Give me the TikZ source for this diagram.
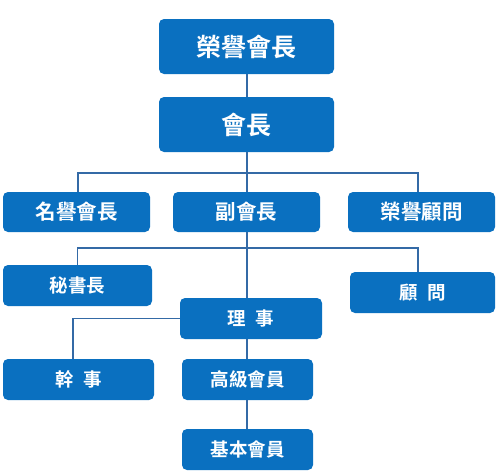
\documentclass[tikz,border=0pt]{standalone}
\usepackage{fontspec}
\newfontfamily\cjk{Noto Sans CJK TC Bold}
\definecolor{boxblue}{RGB}{10,112,192}
\definecolor{lineblue}{RGB}{52,106,166}
\begin{document}
\begin{tikzpicture}[x=1pt,y=-1pt,
  box/.style={fill=boxblue, rounded corners=5pt, text=white, inner sep=0pt, rectangle},
  big/.style={box, minimum width=175pt, minimum height=55pt, font=\cjk\fontsize{25}{25}\selectfont},
  mid/.style={box, minimum width=147pt, minimum height=40pt, font=\cjk\fontsize{20.5}{20.5}\selectfont},
  sml/.style={box, minimum height=41pt, font=\cjk\fontsize{18.5}{18.5}\selectfont},
  conn/.style={draw=lineblue, line width=1.1pt}]
\useasboundingbox (0,0) rectangle (504,474);
% boxes
\node[big] (a) at (246.5,46.5) {榮譽會長};
\node[big] (b) at (246.5,124.5) {會長};
\node[mid] (c1) at (76.5,212) {名譽會長};
\node[mid] (c2) at (246.5,212) {副會長};
\node[mid] (c3) at (421.5,212) {榮譽顧問};
\node[sml, minimum width=149pt] (d1) at (77.5,285.5) {秘書長};
\node[sml, minimum width=145pt] (d3) at (422.5,292.5) {顧\hspace{0.5em}問};
\node[sml, minimum width=142pt] (d2) at (251,318.5) {理\hspace{0.5em}事};
\node[sml, minimum width=151pt] (e1) at (78.5,379.5) {幹\hspace{0.5em}事};
\node[sml, minimum width=131pt] (e2) at (247.5,379.5) {高級會員};
\node[sml, minimum width=131pt] (f) at (247.5,449.5) {基本會員};
% junctions
\coordinate (hA) at (247,173);
\coordinate (hB) at (247,248);
% connectors
\draw[conn] (a.south -| hA) -- (b.north -| hA);
\draw[conn] (b.south -| hA) -- (hA);
\draw[conn] ([xshift=1.5pt]c1.north) |- (hA) -| ([xshift=-3.5pt]c3.north);
\draw[conn] (hA) -- (c2.north -| hA);
\draw[conn] (c2.south -| hA) -- (hB);
\draw[conn] (d1.north) |- (hB) -| ([xshift=-4.5pt]d3.north);
\draw[conn] (hB) -- (d2.north -| hB);
\draw[conn] (d2.west) -| ([xshift=-5.5pt]e1.north);
\draw[conn] (d2.south -| hA) -- (e2.north -| hA);
\draw[conn] (e2.south -| hA) -- (f.north -| hA);
\end{tikzpicture}
\end{document}
